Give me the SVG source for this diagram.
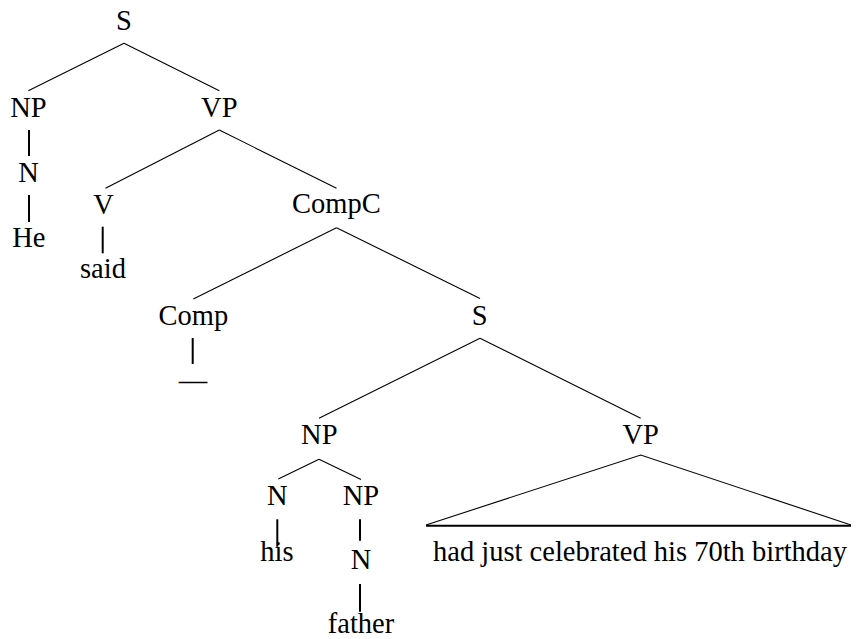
<svg xmlns="http://www.w3.org/2000/svg" width="856" height="639" viewBox="0 0 856 639">
<style>
text { font-family: "Liberation Serif", "Times New Roman", serif; font-size: 28.5px; fill: #000; text-anchor: middle; }
.e { stroke: #000; stroke-width: 1.1; fill: none; }
.u { stroke: #000; stroke-width: 2; fill: none; }
</style>
<rect width="856" height="639" fill="#fff"/>
<g id="connectors">
<line class="e" x1="124" y1="43.3" x2="28.3" y2="90.7"/>
<line class="e" x1="124" y1="43.3" x2="219.3" y2="90.7"/>
<line class="u" x1="29" y1="130" x2="29" y2="156"/>
<line class="u" x1="29" y1="195" x2="29" y2="222"/>
<line class="e" x1="219.3" y1="130" x2="105.5" y2="188.3"/>
<line class="e" x1="219.3" y1="130" x2="336.5" y2="188.3"/>
<line class="u" x1="102.7" y1="226.7" x2="102.7" y2="253.3"/>
<line class="e" x1="336.5" y1="227.7" x2="193.3" y2="299"/>
<line class="e" x1="336.5" y1="227.7" x2="480" y2="298.5"/>
<line class="u" x1="192.7" y1="338" x2="192.7" y2="364"/>
<line class="e" x1="480" y1="338.3" x2="319" y2="418.3"/>
<line class="e" x1="480" y1="338.3" x2="640.7" y2="418.3"/>
<line class="e" x1="319" y1="459.3" x2="278.3" y2="479"/>
<line class="e" x1="319" y1="459.3" x2="361" y2="479.5"/>
<line class="u" x1="277.3" y1="519.3" x2="277.3" y2="546.7"/>
<line class="u" x1="360" y1="519.3" x2="360" y2="540.7"/>
<line class="u" x1="360" y1="584" x2="360" y2="611.7"/>
<polyline class="e" points="426,525 640.7,455 851,525"/>
<line class="u" x1="426" y1="525.7" x2="851" y2="525.7"/>
</g>
<g id="n-S1"><text x="124" y="30">S</text></g>
<g id="n-NP1"><text x="28.5" y="116.7">NP</text></g>
<g id="n-VP1"><text x="219.3" y="116.7">VP</text></g>
<g id="n-N1"><text x="28.5" y="181.7">N</text></g>
<g id="n-He"><text x="28.8" y="246.7">He</text></g>
<g id="n-V"><text x="103.5" y="213.5">V</text></g>
<g id="n-said"><text x="103" y="278">said</text></g>
<g id="n-CompC"><text x="336.3" y="213.3">CompC</text></g>
<g id="n-Comp"><text x="193.3" y="325">Comp</text></g>
<g id="n-dash"><text x="193" y="390">—</text></g>
<g id="n-S2"><text x="479.7" y="325">S</text></g>
<g id="n-NP2"><text x="319.3" y="444.3">NP</text></g>
<g id="n-VP2"><text x="640.7" y="444.3">VP</text></g>
<g id="n-N2"><text x="277.3" y="505">N</text></g>
<g id="n-NP3"><text x="361" y="505">NP</text></g>
<g id="n-his"><text x="277" y="560.7">his</text></g>
<g id="n-N3"><text x="361" y="569">N</text></g>
<g id="n-father"><text x="361" y="632.5">father</text></g>
<g id="n-phrase"><text x="640" y="560.7">had just celebrated his 70th birthday</text></g>
</svg>
